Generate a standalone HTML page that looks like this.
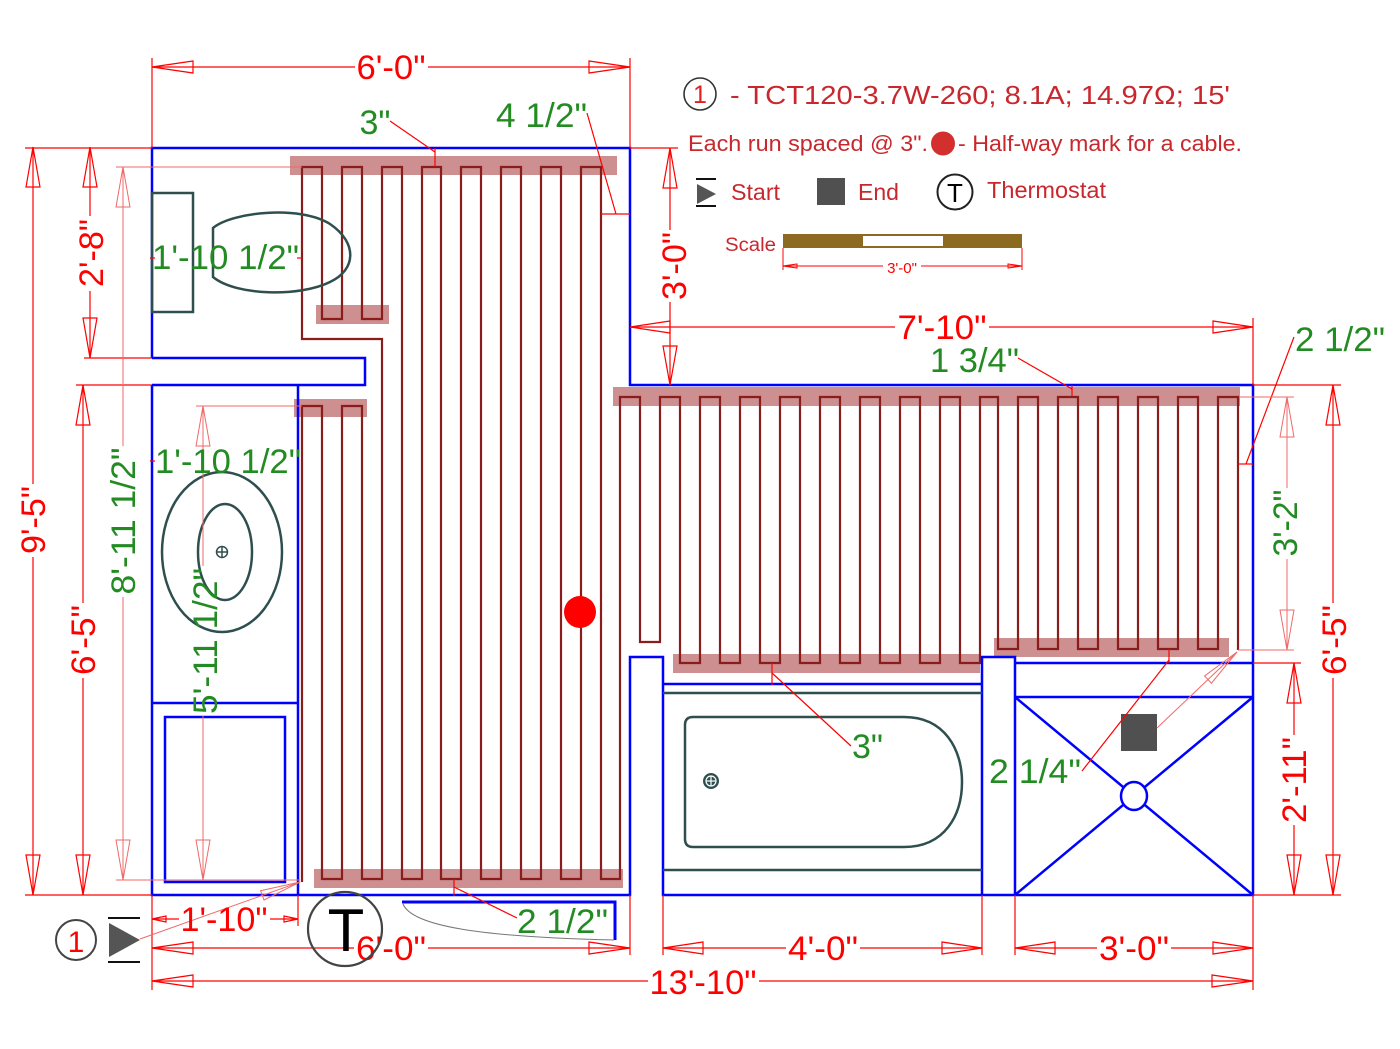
<!DOCTYPE html>
<html><head><meta charset="utf-8"><style>
html,body{margin:0;padding:0;background:#fff;}
svg{display:block;}
text{font-family:"Liberation Sans",Arial,sans-serif;}
</style></head><body>
<svg width="1400" height="1049" viewBox="0 0 1400 1049" xmlns="http://www.w3.org/2000/svg">
<rect width="1400" height="1049" fill="#fff"/>

<!-- shaded cable turn bars -->
<g fill="#cd8f8f">
<rect x="290" y="156" width="327" height="19"/>
<rect x="316" y="305" width="73" height="19"/>
<rect x="294" y="399" width="73" height="18"/>
<rect x="314" y="869" width="309" height="19"/>
<rect x="613" y="387" width="627" height="19"/>
<rect x="673" y="654" width="307" height="19"/>
<rect x="994" y="638" width="235" height="19"/>
</g>

<!-- heating cable -->
<path fill="none" stroke="#8b1c1c" stroke-width="2.2" stroke-linejoin="miter" d="M302,882 V406 H322 V879 H342 V406 H362 V879 H382 V339 H302 V167 H322 V319 H342 V167 H362 V319 H382 V167 H402 V879 H422 V167 H441 V879 H461 V167 H481 V879 H501 V167 H521 V879 H541 V167 H561 V879 H581 V167 H601 V879 H620 V397 H640 V642 H660 V397 H680 V663 H700 V397 H720 V663 H740 V397 H760 V663 H780 V397 H800 V663 H820 V397 H840 V663 H860 V397 H880 V663 H900 V397 H920 V663 H940 V397 H960 V663 H980 V397 H998 V649 H1018 V397 H1038 V649 H1058 V397 H1078 V649 H1098 V397 H1118 V649 H1138 V397 H1158 V649 H1178 V397 H1198 V649 H1218 V397 H1238 V650"/>

<!-- half-way dot -->
<circle cx="580" cy="612" r="16" fill="#ff0000"/>

<!-- walls -->
<g fill="none" stroke="#0000ff" stroke-width="2.5">
<polyline points="152,358 152,148 630,148 630,385 1253,385 1253,895 663,895 663,657 630,657 630,895 152,895 152,385"/>
<polyline points="152,358 365,358 365,385 152,385"/>
<line x1="298" y1="385" x2="298" y2="895"/>
<line x1="152" y1="703" x2="298" y2="703"/>
<rect x="165" y="717" width="120" height="165"/>
<line x1="663" y1="684" x2="982" y2="684"/>
<polyline points="982,895 982,657 1015,657 1015,895"/>
<line x1="1015" y1="663" x2="1253" y2="663"/>
<line x1="1015" y1="697" x2="1253" y2="697"/>
<line x1="1015" y1="697" x2="1253" y2="895"/>
<line x1="1253" y1="697" x2="1015" y2="895"/>
<polyline points="402,902 615,902 615,940" stroke-width="3"/>
</g>
<ellipse cx="1134" cy="796" rx="13" ry="14" fill="#fff" stroke="#0000ff" stroke-width="2.5"/>
<path d="M403,904 C412,926 480,937 614,940" fill="none" stroke="#777" stroke-width="1"/>

<!-- fixtures -->
<g fill="none" stroke="#2f4f4f" stroke-width="2.5">
<rect x="152" y="193" width="41" height="119"/>
<path d="M213,228 C232,212 300,205 330,224 C358,243 356,270 330,282 C300,297 236,296 213,277 Z"/>
<ellipse cx="222" cy="552" rx="60" ry="80"/>
<ellipse cx="225" cy="552" rx="27" ry="48"/>
<line x1="663" y1="693" x2="982" y2="693"/>
<line x1="663" y1="870" x2="982" y2="870"/>
<path d="M693,717 H904 C945,717 962,750 962,782 C962,815 945,847 904,847 H693 Q685,847 685,839 V725 Q685,717 693,717 Z"/>
</g>
<g stroke="#2f4f4f" stroke-width="1.5" fill="none">
<circle cx="222" cy="552" r="5.5"/>
<line x1="216.5" y1="552" x2="227.5" y2="552"/><line x1="222" y1="546.5" x2="222" y2="557.5"/>
</g>
<circle cx="711" cy="781" r="8" fill="#2f4f4f"/>
<g stroke="#fff" stroke-width="1.2" fill="none"><circle cx="711" cy="781" r="5"/><line x1="706" y1="781" x2="716" y2="781"/><line x1="711" y1="776" x2="711" y2="786"/></g>

<!-- end marker -->
<rect x="1121" y="714" width="36" height="37" fill="#505050"/>

<!-- dimension lines main red -->
<g stroke="#ff0000" stroke-width="1.2" fill="none">
<!-- top 6'-0" -->
<line x1="152" y1="67" x2="355" y2="67"/><line x1="428" y1="67" x2="630" y2="67"/>
<line x1="152" y1="58" x2="152" y2="148"/><line x1="630" y1="58" x2="630" y2="148"/>
<polygon points="152,67 193,61 193,73"/><polygon points="630,67 589,61 589,73"/>
<!-- 9'-5" -->
<line x1="33" y1="148" x2="33" y2="484"/><line x1="33" y1="557" x2="33" y2="895"/>
<line x1="25" y1="148" x2="152" y2="148"/><line x1="25" y1="895" x2="152" y2="895"/>
<polygon points="33,147 26,187 40,187"/><polygon points="33,895 26,855 40,855"/>
<!-- 2'-8" -->
<line x1="90" y1="148" x2="90" y2="216"/><line x1="90" y1="291" x2="90" y2="358"/>
<line x1="84" y1="358" x2="152" y2="358"/>
<polygon points="90,147 83,187 97,187"/><polygon points="90,358 83,318 97,318"/>
<!-- 6'-5" left -->
<line x1="83" y1="385" x2="83" y2="603"/><line x1="83" y1="678" x2="83" y2="895"/>
<line x1="76" y1="385" x2="152" y2="385"/>
<polygon points="83,385 76,425 90,425"/><polygon points="83,895 76,855 90,855"/>
<!-- 3'-0" vertical -->
<line x1="670" y1="148" x2="670" y2="230"/><line x1="670" y1="302" x2="670" y2="385"/>
<line x1="630" y1="148" x2="678" y2="148"/>
<polygon points="670,148 663,188 677,188"/><polygon points="670,385 663,346 677,346"/>
<!-- 7'-10" -->
<line x1="630" y1="327" x2="895" y2="327"/><line x1="989" y1="327" x2="1253" y2="327"/>
<line x1="1253" y1="318" x2="1253" y2="385"/>
<polygon points="630,327 670,321 670,333"/><polygon points="1253,327 1213,321 1213,333"/>
<!-- 6'-5" right -->
<line x1="1333" y1="385" x2="1333" y2="603"/><line x1="1333" y1="678" x2="1333" y2="895"/>
<line x1="1253" y1="385" x2="1341" y2="385"/><line x1="1253" y1="895" x2="1341" y2="895"/>
<polygon points="1333,385 1326,425 1340,425"/><polygon points="1333,895 1326,855 1340,855"/>
<!-- 2'-11" -->
<line x1="1294" y1="663" x2="1294" y2="735"/><line x1="1294" y1="825" x2="1294" y2="895"/>
<line x1="1253" y1="663" x2="1301" y2="663"/>
<polygon points="1294,663 1287,703 1301,703"/><polygon points="1294,895 1287,855 1301,855"/>
<!-- bottom 1'-10" -->
<line x1="152" y1="919" x2="179" y2="919"/><line x1="270" y1="919" x2="298" y2="919"/>
<line x1="298" y1="895" x2="298" y2="926"/>
<polygon points="152,919 166,916 166,922"/><polygon points="298,919 284,916 284,922"/>
<!-- bottom 6'-0" -->
<line x1="152" y1="948" x2="354" y2="948"/><line x1="428" y1="948" x2="630" y2="948"/>
<line x1="152" y1="895" x2="152" y2="990"/><line x1="630" y1="895" x2="630" y2="955"/>
<polygon points="152,948 193,942 193,954"/><polygon points="630,948 589,942 589,954"/>
<!-- 13'-10" -->
<line x1="152" y1="981" x2="648" y2="981"/><line x1="759" y1="981" x2="1253" y2="981"/>
<line x1="1253" y1="895" x2="1253" y2="990"/>
<polygon points="152,981 193,975 193,987"/><polygon points="1253,981 1212,975 1212,987"/>
<!-- 4'-0" -->
<line x1="663" y1="948" x2="786" y2="948"/><line x1="860" y1="948" x2="982" y2="948"/>
<line x1="663" y1="895" x2="663" y2="955"/><line x1="982" y1="895" x2="982" y2="955"/>
<polygon points="663,948 703,942 703,954"/><polygon points="982,948 942,942 942,954"/>
<!-- 3'-0" bottom -->
<line x1="1015" y1="948" x2="1097" y2="948"/><line x1="1171" y1="948" x2="1253" y2="948"/>
<line x1="1015" y1="895" x2="1015" y2="955"/>
<polygon points="1015,948 1055,942 1055,954"/><polygon points="1253,948 1213,942 1213,954"/>
<!-- leaders -->
<line x1="390" y1="121" x2="435" y2="152"/><line x1="435" y1="148" x2="435" y2="167"/>
<line x1="587" y1="113" x2="616" y2="214"/><line x1="601" y1="214" x2="630" y2="214"/>
<line x1="1018" y1="358" x2="1072" y2="389"/><line x1="1072" y1="385" x2="1072" y2="396"/>
<line x1="1294" y1="337" x2="1246" y2="464"/><line x1="1238" y1="464" x2="1253" y2="464"/>
<line x1="851" y1="746" x2="772" y2="673"/><line x1="772" y1="663" x2="772" y2="685"/>
<line x1="1082" y1="771" x2="1169" y2="660"/><line x1="1169" y1="649" x2="1169" y2="663"/>
<line x1="517" y1="918" x2="454" y2="887"/><line x1="454" y1="879" x2="454" y2="896"/>
<line x1="150" y1="258" x2="155" y2="258"/><line x1="297" y1="258" x2="302" y2="258"/>
<line x1="150" y1="461" x2="155" y2="461"/>
</g>

<!-- light dimension lines -->
<g stroke="#f06a6a" stroke-width="1" fill="none">
<line x1="123" y1="167" x2="123" y2="446"/><line x1="123" y1="597" x2="123" y2="880"/>
<line x1="116" y1="167" x2="302" y2="167"/><line x1="116" y1="880" x2="300" y2="880"/>
<polygon points="123,167 116,207 130,207"/><polygon points="123,880 116,840 130,840"/>
<line x1="203" y1="406" x2="203" y2="566"/><line x1="203" y1="716" x2="203" y2="880"/>
<line x1="196" y1="406" x2="302" y2="406"/>
<polygon points="203,406 196,446 210,446"/><polygon points="203,880 196,840 210,840"/>
<line x1="1287" y1="397" x2="1287" y2="488"/><line x1="1287" y1="559" x2="1287" y2="650"/>
<line x1="1240" y1="397" x2="1294" y2="397"/><line x1="1238" y1="650" x2="1294" y2="650"/>
<polygon points="1287,397 1280,437 1294,437"/><polygon points="1287,650 1280,610 1294,610"/>
<line x1="1237" y1="652" x2="1157" y2="728"/>
<polygon points="1237,652 1211.4,683.2 1204.6,676"/>
<line x1="300" y1="882" x2="140" y2="939"/>
<polygon points="300,882 264,900 260.6,890.7"/>
</g>

<!-- red dimension texts -->
<g fill="#ff0000" font-size="34">
<text x="391" y="79" text-anchor="middle" textLength="69" lengthAdjust="spacingAndGlyphs">6'-0"</text>
<text transform="translate(45,520) rotate(-90)" text-anchor="middle" textLength="68" lengthAdjust="spacingAndGlyphs">9'-5"</text>
<text transform="translate(103,253) rotate(-90)" text-anchor="middle" textLength="68" lengthAdjust="spacingAndGlyphs">2'-8"</text>
<text transform="translate(95,640) rotate(-90)" text-anchor="middle" textLength="70" lengthAdjust="spacingAndGlyphs">6'-5"</text>
<text transform="translate(686,266) rotate(-90)" text-anchor="middle" textLength="68" lengthAdjust="spacingAndGlyphs">3'-0"</text>
<text x="942" y="339" text-anchor="middle" textLength="89" lengthAdjust="spacingAndGlyphs">7'-10"</text>
<text transform="translate(1346,640) rotate(-90)" text-anchor="middle" textLength="70" lengthAdjust="spacingAndGlyphs">6'-5"</text>
<text transform="translate(1306,780) rotate(-90)" text-anchor="middle" textLength="86" lengthAdjust="spacingAndGlyphs">2'-11"</text>
<text x="224" y="931" text-anchor="middle" textLength="87" lengthAdjust="spacingAndGlyphs">1'-10"</text>
<text x="391" y="960" text-anchor="middle" textLength="70" lengthAdjust="spacingAndGlyphs">6'-0"</text>
<text x="703" y="994" text-anchor="middle" textLength="107" lengthAdjust="spacingAndGlyphs">13'-10"</text>
<text x="823" y="960" text-anchor="middle" textLength="70" lengthAdjust="spacingAndGlyphs">4'-0"</text>
<text x="1134" y="960" text-anchor="middle" textLength="70" lengthAdjust="spacingAndGlyphs">3'-0"</text>
</g>

<!-- green texts -->
<g fill="#228b22" font-size="34">
<text x="375" y="134" text-anchor="middle" textLength="31" lengthAdjust="spacingAndGlyphs">3"</text>
<text x="496" y="127" textLength="91" lengthAdjust="spacingAndGlyphs">4 1/2"</text>
<text x="152" y="269" textLength="147" lengthAdjust="spacingAndGlyphs">1'-10 1/2"</text>
<text x="155" y="473" textLength="146" lengthAdjust="spacingAndGlyphs">1'-10 1/2"</text>
<text transform="translate(135,521) rotate(-90)" text-anchor="middle" textLength="147" lengthAdjust="spacingAndGlyphs">8'-11 1/2"</text>
<text transform="translate(217,641) rotate(-90)" text-anchor="middle" textLength="146" lengthAdjust="spacingAndGlyphs">5'-11 1/2"</text>
<text x="930" y="372" textLength="89" lengthAdjust="spacingAndGlyphs">1 3/4"</text>
<text x="1295" y="351" textLength="90" lengthAdjust="spacingAndGlyphs">2 1/2"</text>
<text transform="translate(1297,523) rotate(-90)" text-anchor="middle" textLength="67" lengthAdjust="spacingAndGlyphs">3'-2"</text>
<text x="852" y="758" textLength="31" lengthAdjust="spacingAndGlyphs">3"</text>
<text x="989" y="783" textLength="92" lengthAdjust="spacingAndGlyphs">2 1/4"</text>
<text x="517" y="933" textLength="91" lengthAdjust="spacingAndGlyphs">2 1/2"</text>
</g>

<!-- bottom-left start markers -->
<circle cx="76" cy="940" r="20" fill="#fff" stroke="#444" stroke-width="2"/>
<text x="76" y="952" fill="#ff0000" font-size="30" text-anchor="middle">1</text>
<line x1="108" y1="918" x2="140" y2="918" stroke="#111" stroke-width="2"/>
<line x1="108" y1="962" x2="140" y2="962" stroke="#111" stroke-width="2"/>
<polygon points="109,923 140,940 109,957" fill="#555"/>
<circle cx="345" cy="929" r="37" fill="none" stroke="#444" stroke-width="2.2"/>
<text x="346" y="951" fill="#000" font-size="60" text-anchor="middle">T</text>

<!-- legend -->
<circle cx="700" cy="94" r="16" fill="#fff" stroke="#333" stroke-width="1.6"/>
<text x="700" y="103" fill="#e02020" font-size="25" text-anchor="middle">1</text>
<g fill="#c8282d">
<text x="730" y="104" font-size="26" textLength="500" lengthAdjust="spacingAndGlyphs">- TCT120-3.7W-260; 8.1A; 14.97Ω; 15'</text>
<text x="688" y="151" font-size="22.5" textLength="240" lengthAdjust="spacingAndGlyphs">Each run spaced @ 3".</text>
<text x="958" y="151" font-size="22.5" textLength="284" lengthAdjust="spacingAndGlyphs">- Half-way mark for a cable.</text>
<text x="731" y="200" font-size="23" textLength="49" lengthAdjust="spacingAndGlyphs">Start</text>
<text x="858" y="200" font-size="23" textLength="41" lengthAdjust="spacingAndGlyphs">End</text>
<text x="987" y="198" font-size="23" textLength="119" lengthAdjust="spacingAndGlyphs">Thermostat</text>
<text x="725" y="251" font-size="19" textLength="51" lengthAdjust="spacingAndGlyphs">Scale</text>
</g>
<circle cx="943" cy="143.5" r="12" fill="#d32f2f"/>
<line x1="696" y1="179" x2="716" y2="179" stroke="#111" stroke-width="2"/>
<line x1="696" y1="206" x2="716" y2="206" stroke="#111" stroke-width="2"/>
<polygon points="697,184 716,194 697,204" fill="#555"/>
<rect x="817" y="178" width="28" height="27" fill="#505050"/>
<circle cx="955" cy="192" r="17.5" fill="none" stroke="#222" stroke-width="2"/>
<text x="955" y="202" fill="#000" font-size="26" text-anchor="middle">T</text>
<!-- scale bar -->
<rect x="783" y="234" width="239" height="14" fill="#8c6a22"/>
<rect x="863" y="236" width="80" height="10" fill="#fff"/>
<g stroke="#ff0000" stroke-width="1" fill="none">
<line x1="783" y1="248" x2="783" y2="270"/><line x1="1022" y1="248" x2="1022" y2="270"/>
<line x1="783" y1="266" x2="883" y2="266"/><line x1="921" y1="266" x2="1022" y2="266"/>
<polygon points="783,266 797,264 797,268"/><polygon points="1022,266 1008,264 1008,268"/>
</g>
<text x="902" y="273" fill="#ff0000" font-size="15" text-anchor="middle">3'-0"</text>
</svg>
</body></html>
